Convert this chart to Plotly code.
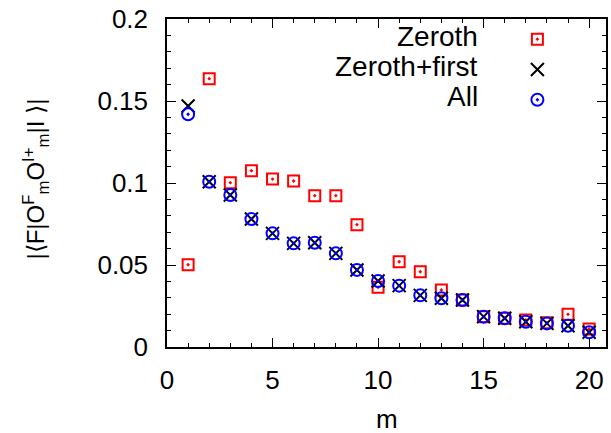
import plotly.graph_objects as go

m = list(range(1, 21))
zeroth = [0.0502, 0.1636, 0.1002, 0.1075, 0.1024, 0.1012, 0.0923, 0.0923, 0.0746, 0.0364,
          0.0520, 0.0459, 0.0348, 0.0287, 0.0185, 0.0175, 0.0165, 0.0148, 0.0199, 0.0110]
zeroth_first = [0.1470, 0.1008, 0.0927, 0.0780, 0.0693, 0.0632, 0.0636, 0.0571, 0.0470, 0.0402,
                0.0374, 0.0315, 0.0297, 0.0287, 0.0185, 0.0175, 0.0154, 0.0144, 0.0130, 0.0090]
all_orders = [0.1419, 0.1008, 0.0927, 0.0780, 0.0693, 0.0632, 0.0636, 0.0571, 0.0470, 0.0402,
              0.0374, 0.0315, 0.0297, 0.0287, 0.0185, 0.0175, 0.0154, 0.0144, 0.0130, 0.0090]
names = ["Zeroth", "Zeroth+first", "All"]
y_ticks = [0, 0.05, 0.1, 0.15, 0.2]
y_ticklabels = ["0", "0.05", "0.1", "0.15", "0.2"]
x_ticks = [0, 5, 10, 15, 20]

FONT = "Liberation Sans, Arial, Helvetica, sans-serif"

fig = go.Figure()
fig.add_trace(go.Scatter(x=m, y=zeroth, mode="markers", name=" ",
                         marker=dict(symbol="square-open-dot", size=11, color="#ff0000",
                                     line=dict(width=2, color="#ff0000"))))
fig.add_trace(go.Scatter(x=m, y=zeroth_first, mode="markers", name=" ",
                         marker=dict(symbol="x-thin-open", size=13, color="black",
                                     line=dict(width=2, color="black"))))
fig.add_trace(go.Scatter(x=m, y=all_orders, mode="markers", name=" ",
                         marker=dict(symbol="circle-open-dot", size=12, color="#0000ff",
                                     line=dict(width=2, color="#0000ff"))))

L, R, T, B = 167, 3, 19, 86
W, H = 611, 433
pw, ph = W - L - R, H - T - B

axis_common = dict(showgrid=False, zeroline=False, showline=True, linecolor="black",
                   linewidth=1.5, mirror="allticks", ticks="inside", ticklen=9,
                   tickwidth=1.2, tickcolor="black",
                   tickfont=dict(family=FONT, size=26, color="black"))

fig.update_xaxes(range=[0, 20.8], tickvals=x_ticks, ticklabelstandoff=9,
                 minor=dict(dtick=1, ticks="inside", ticklen=4.5, tickwidth=1.2, tickcolor="black"),
                 **axis_common)
fig.update_yaxes(range=[0, 0.2], tickvals=y_ticks, ticktext=y_ticklabels, ticklabelstandoff=12,
                 minor=dict(dtick=0.01, ticks="inside", ticklen=4.5, tickwidth=1.2, tickcolor="black"),
                 **axis_common)

def px_x(p):
    return (p - L) / pw

def px_y(p):
    return (H - B - p) / ph

# axis titles as annotations
fig.add_annotation(xref="paper", yref="paper", x=px_x(35), y=px_y(179),
                   text="|⟨F|O<sup>F</sup><sub>m</sub>O<sup>I+</sup><sub>m</sub>|I ⟩|",
                   textangle=-90, showarrow=False, xanchor="center", yanchor="middle",
                   font=dict(family=FONT, size=24, color="black"))
fig.add_annotation(xref="paper", yref="paper", x=px_x(388), y=px_y(419),
                   text="m", showarrow=False, xanchor="center", yanchor="middle",
                   font=dict(family=FONT, size=26, color="black"))

# legend labels (right-aligned text to the left of the legend keys)
for i, nm in enumerate(names):
    ypix = 36 + 30 * i
    fig.add_annotation(xref="paper", yref="paper", x=px_x(481), y=px_y(ypix),
                       text=nm, showarrow=False, xanchor="right", yanchor="middle",
                       font=dict(family=FONT, size=28, color="black"))

fig.update_layout(
    width=W, height=H, margin=dict(l=L, r=R, t=T, b=B),
    paper_bgcolor="white", plot_bgcolor="white",
    showlegend=True,
    legend=dict(x=px_x(519), y=px_y(19), xanchor="left", yanchor="top",
                bgcolor="rgba(0,0,0,0)", font=dict(family=FONT, size=21),
                tracegroupgap=0, itemwidth=30),
)

fig.write_html("out.html", config={"displayModeBar": False},
               post_script="document.body.style.margin='0';document.body.style.overflow='hidden';")
